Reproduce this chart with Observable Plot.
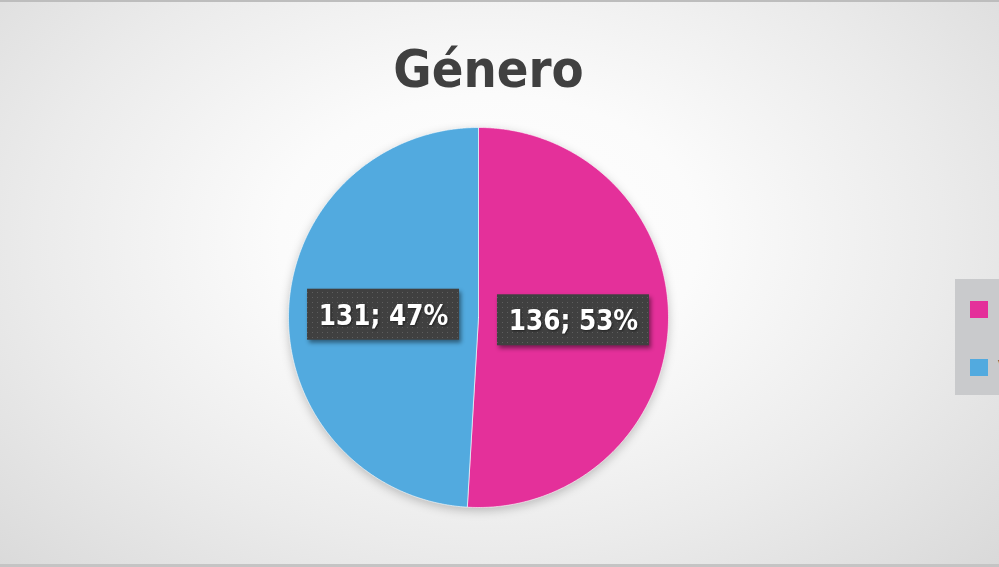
<!DOCTYPE html>
<html>
<head>
<meta charset="utf-8">
<script src="https://cdn.jsdelivr.net/npm/d3@7"></script>
<script src="https://cdn.jsdelivr.net/npm/@observablehq/plot@0.6"></script>
<style>
  html, body { margin: 0; padding: 0; overflow: hidden; }
  #wrap {
    position: relative; width: 999px; height: 567px; overflow: hidden; box-sizing: border-box;
    border-top: 2px solid #bdbdbd; border-bottom: 3px solid #c4c4c4;
    background: radial-gradient(ellipse 70% 85% at 49% 42%, #ffffff 0%, #fbfbfb 30%, #ebebeb 65%, #d9d9d9 100%);
  }
  #title {
    position: absolute; left: 0; width: 977px; top: 41px; text-align: center;
    font-family: "DejaVu Sans Condensed", "DejaVu Sans", sans-serif; font-weight: bold;
    font-size: 52px; line-height: 52px; color: #404040;
  }
  #plot { position: absolute; left: 0; top: -2px; }
  #legend {
    position: absolute; left: 955px; top: 277px; width: 120px; height: 116px; background: #c9cacc;
    font-family: "DejaVu Sans Condensed", "DejaVu Sans", sans-serif; font-size: 20px; color: #404040;
  }
  .item { position: absolute; left: 15px; height: 18px; }
  .sw { position: absolute; left: 0; top: 0; width: 18px; height: 17px; }
  .lb { position: absolute; left: 28px; top: -4px; white-space: nowrap; }
</style>
</head>
<body>
<div id="wrap">
  <div id="title">Género</div>
  <div id="plot"></div>
  <div id="legend"></div>
</div>
<script>
const categories = ["Mujer", "Varón"];
const values = [136, 131];
const labels = ["136; 53%", "131; 47%"];
const colors = ["#E4309A", "#52AADF"];

const data = categories.map((c, i) => ({category: c, value: values[i], label: labels[i]}));
const arcs = d3.pie().sort(null).value(d => d.value)(data);

const pts = arcs.flatMap(a => {
  const n = Math.max(2, Math.ceil((a.endAngle - a.startAngle) / (Math.PI / 360)));
  const p = [{category: a.data.category, x: 0, y: 0}];
  for (let i = 0; i <= n; i++) {
    const t = a.startAngle + (a.endAngle - a.startAngle) * i / n;
    p.push({category: a.data.category, x: Math.sin(t), y: Math.cos(t)});
  }
  p.push({category: a.data.category, x: 0, y: 0});
  return p;
});

const cents = arcs.map(a => {
  const m = (a.startAngle + a.endAngle) / 2;
  return {...a.data, x: 0.5 * Math.sin(m), y: 0.5 * Math.cos(m)};
});

const R = 190;
const hw = 76 / R, hh = 25.5 / R;

const svg = Plot.plot({
  width: 999, height: 567, margin: 0,
  x: {domain: [-1, 1], range: [478 - R, 478 + R], axis: null},
  y: {domain: [-1, 1], range: [317 + R, 317 - R], axis: null},
  color: {domain: categories, range: colors},
  style: {background: "transparent", overflow: "visible"},
  marks: [
    Plot.line(pts, {x: "x", y: "y", z: "category", fill: "category", stroke: "#ffffff", strokeWidth: 0.6, curve: "linear"}),
    Plot.rect(cents, {x1: d => d.x - hw, x2: d => d.x + hw, y1: d => d.y - hh, y2: d => d.y + hh, fill: "url(#dots)"}),
    Plot.text(cents, {x: "x", y: "y", text: "label", fill: "#ffffff", fontSize: 27.5, fontWeight: "bold",
      fontFamily: "DejaVu Sans Condensed, DejaVu Sans, sans-serif", dy: 1})
  ]
});

const ns = "http://www.w3.org/2000/svg";
const defs = document.createElementNS(ns, "defs");
defs.innerHTML = `<pattern id="dots" width="5" height="5" patternUnits="userSpaceOnUse">
  <rect width="5" height="5" fill="#404040"/><rect x="2" y="2" width="1" height="1" fill="#5e5e5e"/></pattern>`;
svg.insertBefore(defs, svg.firstChild);
const gLine = svg.querySelector('g[aria-label="line"]');
if (gLine) gLine.style.filter = "drop-shadow(0px 3px 5px rgba(0,0,0,0.22))";
const gRect = svg.querySelector('g[aria-label="rect"]');
if (gRect) gRect.style.filter = "drop-shadow(2px 3px 2px rgba(0,0,0,0.45))";
const gText = svg.querySelector('g[aria-label="text"]');
if (gText) gText.style.filter = "drop-shadow(1px 1px 1px rgba(0,0,0,0.5))";
document.getElementById("plot").appendChild(svg);

const legend = document.getElementById("legend");
categories.forEach((c, i) => {
  const it = document.createElement("div");
  it.className = "item";
  it.style.top = (22 + i * 58) + "px";
  it.innerHTML = `<div class="sw" style="background:${colors[i]}"></div><div class="lb">${c}</div>`;
  legend.appendChild(it);
});
</script>
</body>
</html>
